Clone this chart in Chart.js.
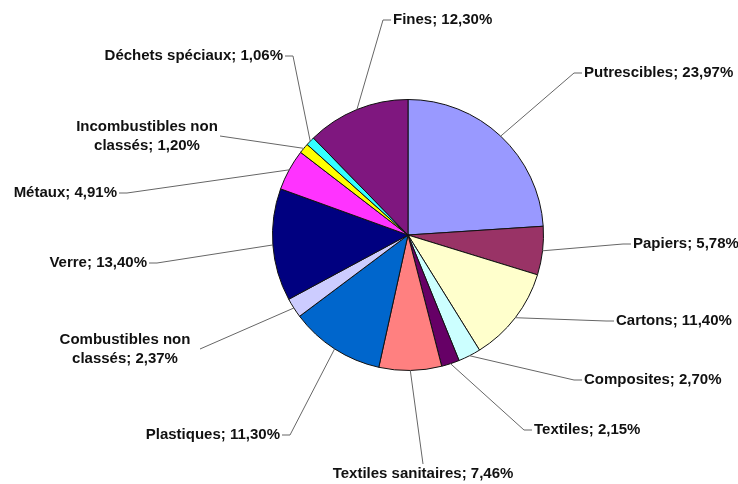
<!DOCTYPE html>
<html>
<head>
<meta charset="utf-8">
<script src="https://cdn.jsdelivr.net/npm/chart.js@4.4.0/dist/chart.umd.min.js"></script>
<style>
  html, body { margin: 0; padding: 0; background: #fff; }
  #wrap { width: 738px; height: 484px; }
</style>
</head>
<body>
<div id="wrap"><canvas id="pie" width="738" height="484"></canvas></div>
<script>
// Categories and shares (%), clockwise from 12 o'clock
const categories = [
    'Putrescibles', 'Papiers', 'Cartons', 'Composites', 'Textiles',
    'Textiles sanitaires', 'Plastiques', 'Combustibles non classés', 'Verre',
    'Métaux', 'Incombustibles non classés', 'Déchets spéciaux', 'Fines'
];
const shares = [23.97, 5.78, 11.40, 2.70, 2.15, 7.46, 11.30, 2.37, 13.40, 4.91, 1.20, 1.06, 12.30];
const sliceColors = [
    '#9999FF', '#993366', '#FFFFCC', '#CCFFFF', '#660066',
    '#FF8080', '#0066CC', '#CCCCFF', '#000080',
    '#FF33FF', '#FFFF00', '#33FFFF', '#7F177F'
];

// Where each label sits (layout only): x,y = text edge next to the leader line
const labelLayout = [
    { x: 584, y: 73, align: 'left' },
    { x: 633, y: 244, align: 'left' },
    { x: 616, y: 321, align: 'left' },
    { x: 584, y: 380, align: 'left' },
    { x: 534, y: 430, align: 'left' },
    { x: 423, y: 474, align: 'below' },
    { x: 280, y: 435, align: 'right' },
    { x: 125, y: 349, align: 'block', lx: 200 },
    { x: 147, y: 263, align: 'right' },
    { x: 117, y: 193, align: 'right' },
    { x: 147, y: 136, align: 'block', lx: 220 },
    { x: 283, y: 56, align: 'right' },
    { x: 393, y: 20, align: 'left' }
];

function pctText(v) {
    return v.toFixed(2).replace('.', ',') + '%';
}

// Draw labels with leader lines from the middle of each arc
const leaderLabels = {
    id: 'leaderLabels',
    afterDatasetsDraw(chart) {
        const ctx = chart.ctx;
        const arcs = chart.getDatasetMeta(0).data;
        ctx.save();
        ctx.font = 'bold 15px "Liberation Sans", Arial, sans-serif';
        ctx.fillStyle = '#111';
        ctx.strokeStyle = '#666';
        ctx.lineWidth = 1;
        ctx.textBaseline = 'middle';

        arcs.forEach((arc, i) => {
            const p = arc.getProps(['x', 'y', 'startAngle', 'endAngle', 'outerRadius'], true);
            const mid = (p.startAngle + p.endAngle) / 2;
            const ax = p.x + Math.cos(mid) * p.outerRadius;
            const ay = p.y + Math.sin(mid) * p.outerRadius;
            const L = labelLayout[i];
            const name = categories[i];
            const pct = pctText(shares[i]);

            let ex, ey, elx;
            if (L.align === 'left') {
                ex = L.x - 2; ey = L.y; elx = L.x - 10;
            } else if (L.align === 'right') {
                ex = L.x + 2; ey = L.y; elx = L.x + 10;
            } else if (L.align === 'below') {
                ex = L.x; ey = L.y - 10; elx = ex;
            } else {
                ex = L.lx; ey = L.y; elx = ex;
            }

            ctx.beginPath();
            ctx.moveTo(ax, ay);
            ctx.lineTo(elx, ey);
            ctx.lineTo(ex, ey);
            ctx.stroke();

            if (L.align === 'block') {
                const cut = name.indexOf(' non') + 4;
                ctx.textAlign = 'center';
                ctx.fillText(name.slice(0, cut), L.x, L.y - 9);
                ctx.fillText(name.slice(cut + 1) + '; ' + pct, L.x, L.y + 10);
            } else if (L.align === 'below') {
                ctx.textAlign = 'center';
                ctx.fillText(name + '; ' + pct, L.x, L.y);
            } else {
                ctx.textAlign = L.align;
                ctx.fillText(name + '; ' + pct, L.x, L.y);
            }
        });
        ctx.restore();
    }
};

new Chart(document.getElementById('pie').getContext('2d'), {
    type: 'pie',
    data: {
        labels: categories,
        datasets: [{
            data: shares,
            backgroundColor: sliceColors,
            borderColor: '#111',
            borderWidth: 1
        }]
    },
    options: {
        responsive: false,
        animation: false,
        layout: {
            padding: { top: 99, bottom: 113, left: 272, right: 194 }
        },
        plugins: {
            legend: { display: false },
            tooltip: { enabled: false }
        }
    },
    plugins: [leaderLabels]
});
</script>
</body>
</html>
